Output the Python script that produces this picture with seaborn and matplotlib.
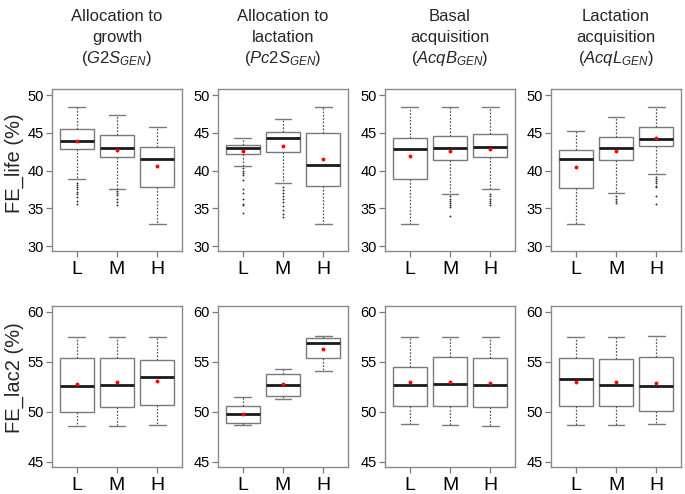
import numpy as np
import pandas as pd
import matplotlib
matplotlib.use("Agg")
import matplotlib.pyplot as plt
import seaborn as sns

sns.set_style("white")
plt.rcParams["font.family"] = ["Liberation Sans", "DejaVu Sans"]
plt.rcParams["mathtext.fontset"] = "custom"
plt.rcParams["mathtext.rm"] = "Liberation Sans"
plt.rcParams["mathtext.it"] = "Liberation Sans:italic"

levels = ["L", "M", "H"]
title_lines = [
    ["Allocation to", "growth", r"($\mathit{G2S}_{\mathit{GEN}}$)"],
    ["Allocation to", "lactation", r"($\mathit{Pc2S}_{\mathit{GEN}}$)"],
    ["Basal", "acquisition", r"($\mathit{AcqB}_{\mathit{GEN}}$)"],
    ["Lactation", "acquisition", r"($\mathit{AcqL}_{\mathit{GEN}}$)"],
]
row_labels = ["FE_life (%)", "FE_lac2 (%)"]

# FE_life (%) : one row per panel, one value per level L, M, H
life_lo = [[38.85, 37.61, 32.96], [40.62, 38.35, 32.96], [32.96, 36.90, 37.57], [32.96, 36.99, 39.51]]
life_q1 = [[42.79, 41.81, 37.79], [42.21, 42.40, 38.00], [38.89, 41.45, 41.81], [37.70, 41.46, 43.23]]
life_med = [[43.94, 43.05, 41.55], [42.96, 44.34, 40.71], [42.79, 43.05, 43.14], [41.55, 43.05, 44.20]]
life_q3 = [[45.53, 44.69, 43.10], [43.41, 45.15, 45.04], [44.34, 44.55, 44.78], [42.74, 44.51, 45.80]]
life_hi = [[48.45, 47.30, 45.75], [44.25, 46.81, 48.45], [48.45, 48.45, 48.45], [45.22, 47.04, 48.45]]
life_mean = [[43.98, 42.74, 40.58], [42.61, 43.27, 41.50], [41.90, 42.60, 42.88], [40.49, 42.65, 44.25]]
life_out = [
    [[38.4, 38.1, 37.8, 37.5, 37.2, 36.9, 36.5, 36.0, 35.6], [37.3, 37.0, 36.7, 36.3, 35.9, 35.5], []],
    [[40.3, 40.0, 39.7, 39.4, 38.7, 37.6, 37.0, 36.3, 35.6, 35.4, 34.4],
     [37.8, 37.4, 37.0, 36.6, 36.2, 35.8, 35.3, 34.8, 34.3, 33.8], []],
    [[], [36.6, 36.3, 36.0, 35.7, 35.4, 35.2, 34.0], [36.9, 36.6, 36.3, 36.0, 35.7, 35.4]],
    [[], [36.6, 36.3, 36.0, 35.7], [39.2, 38.9, 38.6, 38.3, 38.0, 37.8, 36.6, 35.6]],
]

# FE_lac2 (%)
lac_lo = [[48.58, 48.58, 48.65], [48.62, 51.26, 54.11], [48.75, 48.68, 48.58], [48.62, 48.68, 48.75]]
lac_q1 = [[49.96, 50.49, 50.63], [48.85, 51.53, 55.38], [50.56, 50.56, 50.49], [50.59, 50.53, 50.02]]
lac_med = [[52.53, 52.63, 53.44], [49.76, 52.70, 56.89], [52.70, 52.80, 52.63], [53.30, 52.67, 52.60]]
lac_q3 = [[55.41, 55.41, 55.21], [50.53, 53.81, 57.36], [54.44, 55.45, 55.41], [55.35, 55.28, 55.51]]
lac_hi = [[57.49, 57.52, 57.49], [51.43, 54.31, 57.56], [57.52, 57.49, 57.49], [57.49, 57.49, 57.56]]
lac_mean = [[52.77, 52.94, 53.10], [49.76, 52.80, 56.28], [52.94, 53.00, 52.90], [52.97, 52.97, 52.84]]
lac_out = [[[], [], []], [[], [], []], [[], [], []], [[], [], []]]

rows = [
    (life_lo, life_q1, life_med, life_q3, life_hi, life_mean, life_out, (29.35, 50.8), [30, 35, 40, 45, 50]),
    (lac_lo, lac_q1, lac_med, lac_q3, lac_hi, lac_mean, lac_out, (44.45, 60.6), [45, 50, 55, 60]),
]


def summary_values(lo, q1, med, q3, hi, out):
    # rebuild a sample whose quartiles / whiskers equal the read summary
    m = len(out) + 6
    return list(out) + [lo] + [q1] * m + [med] * m + [q3] * m + [hi]


W, H = 685, 494
fig = plt.figure(figsize=(W / 100, H / 100), dpi=100)
lefts = [52, 218, 385, 551]
pw = 130
row_box = [(89, 251), (306, 467)]

edge = "#7a7a7a"
for r, (lo, q1, med, q3, hi, mean, out, ylim, yt) in enumerate(rows):
    top, bot = row_box[r]
    for p in range(4):
        ax = fig.add_axes([lefts[p] / W, 1 - bot / H, pw / W, (bot - top) / H])
        recs = []
        for j, lev in enumerate(levels):
            for v in summary_values(lo[p][j], q1[p][j], med[p][j], q3[p][j], hi[p][j], out[p][j]):
                recs.append((lev, v))
        df = pd.DataFrame(recs, columns=["level", "value"])
        sns.boxplot(
            data=df, x="level", y="value", order=levels, ax=ax, width=0.85,
            boxprops=dict(facecolor="white", edgecolor=edge, linewidth=1.0),
            medianprops=dict(color="#1a1a1a", linewidth=2.0),
            whiskerprops=dict(color="#555555", linestyle=(0, (1.4, 1.3)), linewidth=0.9),
            capprops=dict(color=edge, linewidth=1.0),
            flierprops=dict(marker="o", markersize=1.1, markerfacecolor="#333333",
                            markeredgecolor="#333333", markeredgewidth=0.2),
            capwidths=0.42,
        )
        mdf = pd.DataFrame({"level": levels, "mean": mean[p]})
        sns.stripplot(data=mdf, x="level", y="mean", order=levels, ax=ax,
                      color="red", size=2.8, jitter=False, linewidth=0, zorder=5)
        ax.set_xlim(-0.62, 2.62)
        ax.set_ylim(*ylim)
        ax.set_yticks(yt)
        ax.set_xlabel("")
        ax.set_ylabel("")
        for s in ax.spines.values():
            s.set_visible(True)
            s.set_color("#8a8a8a")
            s.set_linewidth(1.0)
        ax.tick_params(axis="both", which="major", direction="out", length=4.5, width=0.9,
                       color="#7a7a7a", labelcolor="black", bottom=True, left=True)
        ax.tick_params(axis="x", labelsize=14, pad=2.5)
        ax.tick_params(axis="y", labelsize=10.5, pad=1.5)

# titles
baselines = [21, 42, 63]
for p in range(4):
    cx = (lefts[p] + pw / 2) / W
    for k, line in enumerate(title_lines[p]):
        fig.text(cx, 1 - baselines[k] / H, line, ha="center", va="baseline", fontsize=12)

# row labels
for r, yc in enumerate([163, 378]):
    fig.text(14 / W, 1 - yc / H, row_labels[r], rotation=90, ha="center", va="center", fontsize=14.5)

fig.savefig("out.png", dpi=100, facecolor="white")
